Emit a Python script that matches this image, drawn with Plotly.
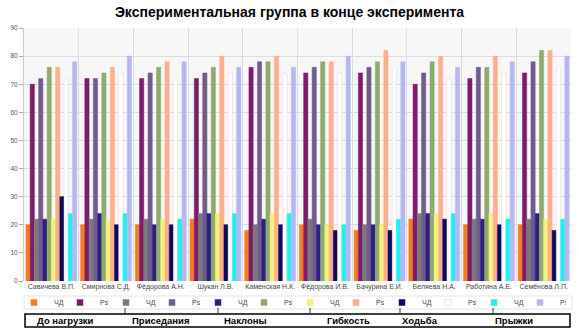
import plotly.graph_objects as go

categories = ["Савичева В.П.", "Смирнова С.Д.", "Фёдорова А.Н.", "Шукан Л.В.", "Каменская Н.К.",
              "Фёдорова И.В.", "Бачурина Е.И.", "Беляева Н.А.", "Работина А.Е.", "Семёнова Л.П."]
phases = ["До нагрузки", "Приседания", "Наклоны", "Гибкость", "Ходьба", "Прыжки"]

chd_do = [20, 20, 20, 22, 18, 20, 18, 22, 20, 20]
ps_do = [70, 72, 72, 72, 76, 74, 74, 70, 72, 74]
chd_pris = [22, 22, 22, 24, 20, 22, 20, 24, 22, 22]
ps_pris = [72, 72, 74, 74, 78, 76, 76, 74, 76, 78]
chd_nakl = [22, 24, 20, 24, 22, 20, 20, 24, 22, 24]
ps_nakl = [76, 74, 76, 76, 78, 78, 78, 78, 76, 82]
chd_gib = [22, 22, 22, 24, 24, 20, 20, 24, 24, 22]
ps_gib = [76, 76, 78, 80, 80, 78, 82, 80, 80, 82]
chd_hod = [30, 20, 20, 20, 20, 18, 18, 22, 20, 18]
ps_hod = [72, 74, 72, 74, 74, 74, 76, 72, 74, 76]
chd_pr = [24, 24, 22, 24, 24, 20, 22, 24, 22, 22]
ps_pr = [78, 80, 78, 76, 76, 80, 78, 76, 78, 80]

series = [
    ("ЧД", chd_do, "#f47b20"), ("Ps", ps_do, "#7d1b6c"),
    ("ЧД", chd_pris, "#7a7a7a"), ("Ps", ps_pris, "#6f5b8e"),
    ("ЧД", chd_nakl, "#2c2180"), ("Ps", ps_nakl, "#8fab6b"),
    ("ЧД", chd_gib, "#f6f07e"), ("Ps", ps_gib, "#fcae8d"),
    ("ЧД", chd_hod, "#0b0a5c"), ("Ps", ps_hod, "#ffffff"),
    ("ЧД", chd_pr, "#22f0ee"), ("Ps", ps_pr, "#b6b6f2"),
]

W, H = 579, 333
L, R, T, B = 24, 8, 28, 52
PW, PH = W - L - R, H - T - B


def px(x):
    return (x - L) / PW


def py(y):
    return (H - B - y) / PH


FONT = "Liberation Sans, Arial, sans-serif"
fig = go.Figure()
for i, (name, vals, col) in enumerate(series):
    lc = "#d8d8d8" if col == "#ffffff" else col
    fig.add_trace(go.Bar(x=categories, y=vals, name=name, marker=dict(color=col, line=dict(color=lc, width=0.5)),
                         showlegend=False))
for i, (name, vals, col) in enumerate(series):
    lc = "#cccccc" if col == "#ffffff" else col
    fig.add_trace(go.Scatter(x=[None], y=[None], mode="markers", name=name,
                             marker=dict(symbol="square", size=6, color=col, line=dict(color=lc, width=0.5))))

shapes = [
    dict(type="rect", xref="paper", yref="paper", x0=px(24), x1=px(572), y0=py(296), y1=py(309),
         line=dict(color="#e4e4e4", width=1), layer="below"),
    dict(type="rect", xref="paper", yref="paper", x0=px(25), x1=px(570), y0=py(314), y1=py(327),
         line=dict(color="black", width=1.5)),
]
for tx in [125, 218, 310, 400, 493]:
    shapes.append(dict(type="line", xref="paper", yref="paper", x0=px(tx), x1=px(tx), y0=py(308), y1=py(314),
                       line=dict(color="#333333", width=1)))

ann = []
for ph, lx in zip(phases, [35, 130, 222, 325, 400, 493]):
    ann.append(dict(text="<b>" + ph + "</b>", xref="paper", yref="paper", x=px(lx), y=py(320.5),
                    xanchor="left", yanchor="middle", showarrow=False,
                    font=dict(family=FONT, size=9.5, color="black")))

fig.update_layout(
    width=W, height=H, margin=dict(l=L, r=R, t=T, b=B, autoexpand=False),
    paper_bgcolor="white", plot_bgcolor="#f7f7f7",
    title=dict(text="<b>Экспериментальная группа в конце эксперимента</b>", x=0.5, xanchor="center",
               y=1 - 12 / H, yanchor="middle", font=dict(family=FONT, size=14, color="black")),
    barmode="group", bargap=0.07, bargroupgap=0,
    xaxis=dict(type="category", tickson="boundaries", showgrid=True, gridcolor="#dcdcdc", gridwidth=1,
               ticks="", tickangle=0, automargin=False,
               tickfont=dict(family=FONT, size=7, color="#444444"), fixedrange=True,
               showline=False, zeroline=False),
    yaxis=dict(range=[0, 90], dtick=10, showgrid=True, gridcolor="#dcdcdc", ticks="outside", ticklen=4,
               tickcolor="#aaaaaa", tickfont=dict(family=FONT, size=6.5, color="#555555"), automargin=False,
               showline=True, linecolor="#cccccc", zeroline=False),
    legend=dict(orientation="h", x=px(14), xanchor="left", y=py(288), yanchor="top",
                entrywidth=1, entrywidthmode="pixels", borderwidth=0,
                font=dict(family=FONT, size=7, color="#444444"), bgcolor="rgba(0,0,0,0)",
                tracegroupgap=0, itemclick=False),
    shapes=shapes, annotations=ann,
)
fig.write_html("out.html")
